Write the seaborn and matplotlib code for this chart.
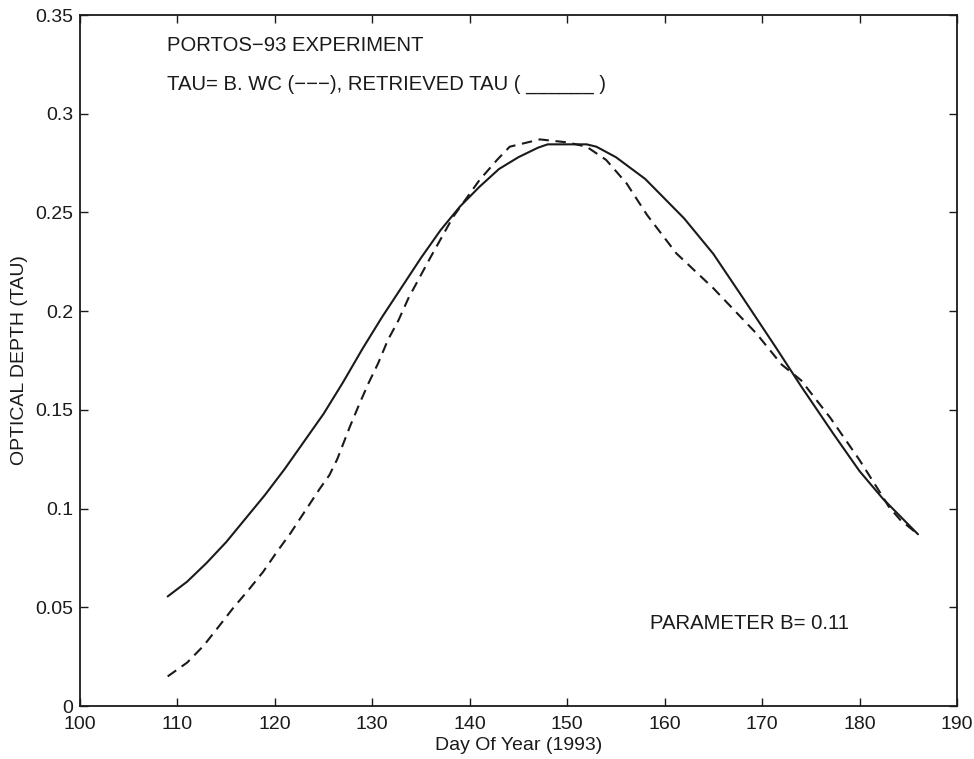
import matplotlib
matplotlib.use("Agg")
import matplotlib.pyplot as plt
from matplotlib.ticker import FuncFormatter
import seaborn as sns
import pandas as pd

# Retrieved optical depth (solid line)
retrieved_day = [109, 111, 113, 115, 117, 119, 121, 123, 125, 127, 129, 131,
                 133, 135, 137, 139, 141, 143, 145, 147, 148, 152, 153, 155,
                 158, 160, 162, 165, 168, 171.5, 174, 177.3, 180, 182.4, 186]
retrieved_tau = [0.0555, 0.063, 0.0725, 0.083, 0.095, 0.107, 0.120, 0.134,
                 0.148, 0.164, 0.181, 0.197, 0.212, 0.227, 0.241, 0.253,
                 0.263, 0.272, 0.278, 0.2828, 0.2845, 0.2845, 0.2833, 0.278,
                 0.267, 0.257, 0.247, 0.229, 0.207, 0.181, 0.162, 0.138,
                 0.119, 0.105, 0.087]

# TAU = B * WC (dashed line)
bwc_day = [109, 111, 112.7, 114.2, 115.7, 117.3, 118.8, 120.2, 121.6, 123,
           124.6, 125.6, 126.4, 127.7, 128.7, 129.6, 130.6, 131.6, 132.7,
           133.7, 134.9, 136.1, 138.3, 141, 142.8, 144.1, 147.2, 150, 152,
           154, 156.1, 158.2, 161.2, 165, 169.4, 172, 174, 177, 180, 182,
           183, 184.2, 185, 186]
bwc_tau = [0.015, 0.022, 0.0306, 0.040, 0.0495, 0.0588, 0.068, 0.078,
           0.0875, 0.098, 0.110, 0.117, 0.125, 0.1415, 0.1533, 0.1634,
           0.1736, 0.1854, 0.1955, 0.2065, 0.2175, 0.2284, 0.2478, 0.2664,
           0.2766, 0.2833, 0.287, 0.2855, 0.2833, 0.2766, 0.2647, 0.2487,
           0.2293, 0.2116, 0.1888, 0.173, 0.165, 0.146, 0.1246, 0.109,
           0.101, 0.0942, 0.091, 0.087]

x_ticks = [100, 110, 120, 130, 140, 150, 160, 170, 180, 190]
y_ticks = [0, 0.05, 0.1, 0.15, 0.2, 0.25, 0.3, 0.35]

sns.set_theme(style="ticks")
plt.rcParams["font.family"] = ["Liberation Sans", "DejaVu Sans"]
plt.rcParams["axes.unicode_minus"] = True

ink = "#1a1a1a"

fig = plt.figure(figsize=(9.74, 7.59), dpi=100)
ax = fig.add_axes([0.0821, 0.0698, 0.9004, 0.9104])

df_ret = pd.DataFrame({"day": retrieved_day, "tau": retrieved_tau})
df_bwc = pd.DataFrame({"day": bwc_day, "tau": bwc_tau})

sns.lineplot(data=df_ret, x="day", y="tau", ax=ax, color=ink,
             linewidth=1.5, sort=False)
sns.lineplot(data=df_bwc, x="day", y="tau", ax=ax, color=ink,
             linewidth=1.5, sort=False)
ax.lines[1].set_dashes([5.0, 3.2])

ax.set_xlim(100, 190)
ax.set_ylim(0, 0.35)
ax.set_xticks(x_ticks)
ax.set_yticks(y_ticks)
ax.yaxis.set_major_formatter(FuncFormatter(lambda v, p: f"{v:g}"))

ax.tick_params(axis="both", which="both", direction="in", length=6,
               width=1.0, top=True, right=True, labelsize=14,
               colors=ink)
ax.tick_params(axis="x", pad=7)
ax.tick_params(axis="y", pad=5)
for s in ax.spines.values():
    s.set_visible(True)
    s.set_linewidth(1.3)
    s.set_color(ink)

ax.set_xlabel("Day Of Year (1993)", fontsize=14, color=ink, labelpad=3)
ax.set_ylabel("OPTICAL DEPTH (TAU)", fontsize=14, color=ink, labelpad=5)

txt_kw = dict(fontsize=14.6, color=ink, va="center", ha="left")
ax.text(108.9, 0.3348, "PORTOS\u221293 EXPERIMENT", **txt_kw)
ax.text(108.9, 0.3150,
        "TAU= B. WC (\u2212\u2212\u2212), RETRIEVED TAU ( ______ )", **txt_kw)
ax.text(158.5, 0.0420, "PARAMETER B= 0.11", **txt_kw)

fig.savefig("out.png", dpi=100, facecolor="white")
